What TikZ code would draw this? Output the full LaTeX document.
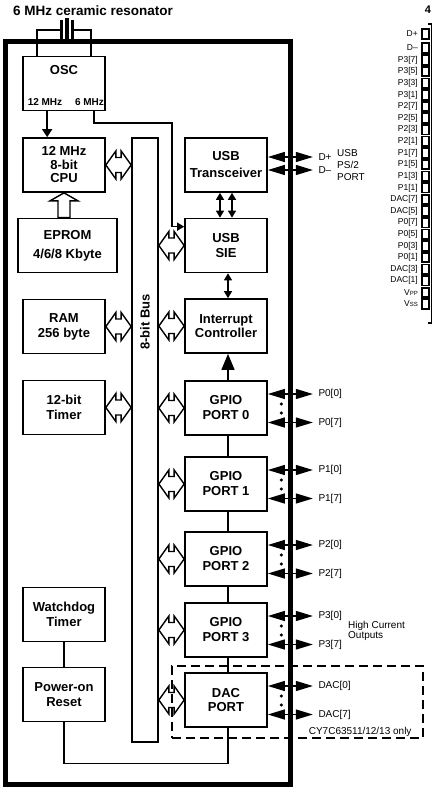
\documentclass[tikz,border=0pt]{standalone}
\usepackage{fontspec}
\setmainfont{Liberation Sans}
\usetikzlibrary{arrows.meta,calc}
\tikzset{
  blockfont/.style={font=\bfseries\fontsize{13}{15}\selectfont},
  block/.style={draw, line width=1.7pt, minimum width=82pt, minimum height=54pt,
                inner sep=1pt, align=center, blockfont},
  wire/.style={line width=1.5pt},
  hollow/.style={line width=1.4pt, line join=miter},
  pinarrow/.style={line width=1.3pt,
                   {Triangle[length=17pt,width=10pt]}-{Triangle[length=17pt,width=10pt]}},
  smallboth/.style={wire, {Triangle[length=7pt,width=8pt]}-{Triangle[length=7pt,width=8pt]}},
  pinlabel/.style={anchor=west, inner sep=0pt, xshift=5pt, font=\fontsize{10}{12}\selectfont},
  note/.style={inner sep=0pt, align=left, font=\fontsize{10}{10}\selectfont},
  striplabel/.style={anchor=east, inner sep=0pt, font=\fontsize{8.5}{10}\selectfont},
  pinsq/.style={draw, line width=1.8pt, minimum width=7pt, minimum height=9.5pt, inner sep=0pt},
}
% wide hollow double arrow between two points on one level
\newcommand{\busarrow}[2]{%
  \draw[hollow] (#1) -- ++(10,-14) -- ++(0,6.5) -- ($(#2)+(-10,-7.5)$) -- ++(0,-6.5)
    -- (#2) -- ++(-10,14) -- ++(0,-6.5) -- ($(#1)+(10,7.5)$) -- ++(0,6.5) -- cycle;}
\begin{document}
\begin{tikzpicture}[x=1pt, y=-1pt]
\useasboundingbox (0,0) rectangle (433,792);

% ---------------- resonator and chip outline ----------------
\node[font=\bfseries\fontsize{13.5}{15}\selectfont] (restitle) at (93,11) {6 MHz ceramic resonator};
\fill (59.5,20) rectangle (62.5,41);
\fill (64.5,18) rectangle (69,42);
\fill (70.5,20) rectangle (73.5,41);
\coordinate (xl) at (60,30);
\coordinate (xr) at (73,30);

\node[draw, line width=5pt, minimum width=285pt, minimum height=742pt, inner sep=0pt]
  (chip) at (147.5,413) {};

% ---------------- left column ----------------
\node[block] (osc) at (64,83.5) {};
\node[blockfont, inner sep=0pt] (osclabel) at (64,70) {OSC};
\node[inner sep=0pt, font=\bfseries\fontsize{10}{12}\selectfont] (f12) at (45,102) {12 MHz};
\node[inner sep=0pt, font=\bfseries\fontsize{10}{12}\selectfont] (f6) at (89.5,102) {6 MHz};
\draw[wire] (xl) -| ($(osc.north west)+(15,0)$);
\draw[wire] (xr) -| ($(osc.north east)+(-15,0)$);

\node[block, font=\bfseries\fontsize{13}{13.5}\selectfont] (cpu) at (64,165) {12 MHz\\8-bit\\CPU};
\node[block, minimum width=99pt, font=\bfseries\fontsize{13}{19}\selectfont] (eprom) at (67.5,245.5) {EPROM\\4/6/8 Kbyte};
\node[block] (ram) at (64,326.5) {RAM\\256 byte};
\node[block] (timer) at (64,407.5) {12-bit\\Timer};
\node[block] (wdt) at (64,614.5) {Watchdog\\Timer};
\node[block] (por) at (64,694.5) {Power-on\\Reset};

% ---------------- bus ----------------
\node[draw, line width=1.7pt, minimum width=26pt, minimum height=604pt, inner sep=0pt]
  (bus) at (145,440) {};
\node[blockfont, rotate=90, inner sep=0pt] (buslabel) at (145,322) {8-bit Bus};

% ---------------- right column ----------------
\node[block, font=\bfseries\fontsize{13}{17}\selectfont] (usbx) at (226,165) {USB\\Transceiver};
\node[block] (sie) at (226,245.5) {USB\\SIE};
\node[block, font=\bfseries\fontsize{13}{14}\selectfont] (intc) at (226,326) {Interrupt\\Controller};
\node[block] (gp0) at (226,408) {GPIO\\PORT 0};
\node[block] (gp1) at (226,484) {GPIO\\PORT 1};
\node[block] (gp2) at (226,559) {GPIO\\PORT 2};
\node[block] (gp3) at (226,630) {GPIO\\PORT 3};
\node[block, font=\bfseries\fontsize{13}{14}\selectfont] (dac) at (226,700) {DAC\\PORT};

\node[draw, line width=1.4pt, dash pattern=on 9pt off 5pt, minimum width=251pt,
      minimum height=72pt, inner sep=0pt] (cyonly) at (297.5,702) {};
\node[note, anchor=south east] (cylabel) at ($(cyonly.south east)+(-12,-1.5)$) {CY7C63511/12/13 only};

% ---------------- clocks ----------------
\draw[wire, -{Triangle[length=8pt,width=10pt]}] ($(osc.south west)+(25,0)$) -- ($(cpu.north west)+(25,0)$);
\coordinate (bend) at (172,123);
\draw[wire, -{Triangle[length=7pt,width=8pt]}] ($(osc.south east)+(-12,0)$) |- (bend)
  |- ($(sie.north west)+(0,9)$);

% EPROM feeds the CPU
\draw[hollow] (cpu.south) -- ++(14,8) -- ++(-8,0) -- ($(eprom.north -| cpu.south)+(6,0)$)
  -- ($(eprom.north -| cpu.south)+(-6,0)$) -- ($(cpu.south)+(-6,8)$) -- ++(-8,0) -- cycle;

% bus connections
\foreach \b in {cpu,ram,timer} {\busarrow{\b.east}{\b.east -| bus.west}}
\foreach \b in {sie,intc,gp0,gp1,gp2,gp3,dac} {\busarrow{bus.east |- \b.west}{\b.west}}

% internal links
\draw[smallboth] ($(usbx.south)+(-6,0)$) -- ($(sie.north)+(-6,0)$);
\draw[smallboth] ($(usbx.south)+(6,0)$) -- ($(sie.north)+(6,0)$);
\draw[smallboth] ($(sie.south)+(2,0)$) -- ($(intc.north)+(2,0)$);
\draw[wire, -{Triangle[length=16pt,width=13pt]}] ($(gp0.north)+(2,0)$) -- ($(intc.south)+(2,0)$);
\foreach \a/\b in {gp0/gp1, gp1/gp2, gp2/gp3, gp3/dac}
  \draw[wire] ($(\a.south)+(2,0)$) -- ($(\b.north)+(2,0)$);
\draw[wire] (wdt.south) -- (por.south |- por.north);
\draw[wire] (por.south) -- ++(0,41) -| ($(dac.south)+(2,0)$);

% ---------------- external pins ----------------
\draw[pinarrow] ($(usbx.east)+(0,-8)$) -- ++(45,0) node[pinlabel] (dplus) {D+};
\draw[pinarrow] ($(usbx.east)+(0,5)$) -- ++(45,0) node[pinlabel] (dminus) {D\textendash};
\node[note, anchor=west, font=\fontsize{10}{12}\selectfont] (usbport) at (337,165) {USB\\PS/2\\PORT};

\foreach \b/\p in {gp0/P0, gp1/P1, gp2/P2, gp3/P3, dac/DAC} {
  \draw[pinarrow] ($(\b.east)+(0,-14)$) -- ++(45,0) node[pinlabel] (\b-first) {\p[0]};
  \draw[pinarrow] ($(\b.east)+(0,14.5)$) -- ++(45,0) node[pinlabel] (\b-last) {\p[7]};
  \fill ($(\b.east)+(13.5,-4)$) circle (1.7);
  \fill ($(\b.east)+(13.5,5)$) circle (1.7);
}
\node[note, anchor=west] (hicur) at (348,631) {High Current\\Outputs};

% ---------------- pin strip at the right edge ----------------
\node[inner sep=0pt, font=\bfseries\fontsize{11}{12}\selectfont] (pinnum) at (428,10) {4};
\draw[line width=1.5pt] (428,24) -- (431.5,24) -- (431.5,323) -- (428,323);
\node[pinsq] (sqdp) at (425.5,34) {};
\node[striplabel] (labdp) at (418,34) {D+};
\node[pinsq] (sqdm) at (425.5,48) {};
\node[striplabel] (labdm) at (418,48) {D\textendash};
\foreach \lbl [count=\i from 0] in {P3[7],P3[5],P3[3],P3[1],P2[7],P2[5],P2[3],P2[1],
    P1[7],P1[5],P1[3],P1[1],DAC[7],DAC[5],P0[7],P0[5],P0[3],P0[1],DAC[3],DAC[1],
    {V{\fontsize{6}{6}\selectfont PP}},{V{\fontsize{6}{6}\selectfont SS}}} {
  \pgfmathsetmacro\py{60+11.62*\i}
  \node[pinsq] (sq\i) at (425.5,\py) {};
  \node[striplabel] (lab\i) at (418,\py) {\lbl};
}
\end{tikzpicture}
\end{document}
